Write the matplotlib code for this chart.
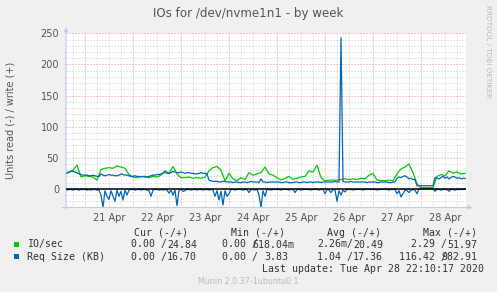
"""Munin 'IOs for /dev/nvme1n1 - by week' chart, redrawn with matplotlib."""
import matplotlib
matplotlib.use("Agg")
import matplotlib.pyplot as plt
from matplotlib.patches import Rectangle
import pandas as pd

W, H = 497, 292

# --- data -------------------------------------------------------------------
# IO/sec (write, +) sampled every 2 hours, Apr 20 14:00 .. Apr 28 22:00
io_write = (
    [25, 27, 30, 38, 19]                                         # Apr 20
    + [21, 20, 19, 14, 31, 33, 34, 33, 37, 35, 33, 23]           # Apr 21
    + [19, 18, 20, 19, 18, 20, 19, 22, 29, 25, 36, 24]           # Apr 22
    + [18, 18, 19, 17, 18, 17, 19, 29, 34, 36, 30, 13]           # Apr 23
    + [25, 16, 13, 18, 15, 26, 22, 24, 26, 35, 24, 22]           # Apr 24
    + [18, 14, 17, 20, 15, 17, 19, 20, 29, 27, 38, 18]           # Apr 25
    + [13, 14, 14, 14, 15, 16, 15, 16, 15, 17, 16, 22]           # Apr 26
    + [25, 14, 13, 13, 14, 13, 24, 32, 35, 40, 26, 8]            # Apr 27
    + [2, 2, 2, 2, 20, 23, 21, 29, 25, 27, 24, 24.84]            # Apr 28
)

# Req Size KB (write, +) sampled hourly, Apr 20 14:00 .. Apr 28 22:00
req_write = (
    [24, 25, 27, 28, 28, 27, 26, 24, 23, 22]
    + [22, 22, 21, 21, 22, 21, 20, 20, 24, 22, 21, 22,
       23, 22, 22, 21, 21, 22, 24, 23, 22, 22, 21, 20]
    + [20, 21, 20, 20, 19, 20, 20, 19, 20, 21, 22, 22,
       23, 23, 24, 25, 27, 25, 25, 26, 28, 27, 26, 26]
    + [27, 26, 25, 26, 26, 25, 25, 24, 24, 25, 26, 25,
       25, 24, 14, 13, 12, 12, 12, 11, 11, 12, 12, 11]
    + [11, 11, 10, 11, 11, 10, 10, 11, 11, 10, 11, 12,
       11, 11, 11, 10, 16, 11, 11, 10, 11, 11, 11, 11]
    + [11, 11, 10, 10, 11, 11, 10, 10, 10, 11, 11, 10,
       10, 11, 11, 10, 11, 11, 10, 11, 11, 11, 10, 11]
    + [11, 11, 11, 11, 11, 12, 11, 11, 243, 12, 11, 11,
       11, 12, 11, 11, 11, 11, 11, 11, 11, 10, 11, 11]
    + [11, 11, 10, 10, 11, 11, 11, 11, 10, 10, 11, 11,
       17, 19, 18, 20, 21, 19, 16, 17, 15, 15, 5, 5]
    + [5, 5, 5, 5, 5, 5, 5, 18, 17, 16, 18, 20,
       17, 19, 16, 18, 20, 19, 17, 18, 16, 17, 16.7]
)

# Req Size KB (read, drawn negative) sampled hourly
req_read = (
    [-1, -2, -1, -1, -2, -1, -1, -2, -1, -1]
    + [-1, -2, -1, -2, -1, -1, -2, -2, -10, -30, -3, -12,
       -17, -3, -12, -20, -2, -12, -4, -18, -2, -10, -2, -1]
    + [-1, -2, -1, -1, -2, -1, -1, -2, -3, -12, -2, -1,
       -1, -2, -1, -2, -1, -2, -7, -2, -10, -2, -27, -2]
    + [-1, -4, -3, -1, -1, -2, -1, -1, -2, -1, -1, -2,
       -1, -1, -2, -1, -2, -12, -3, -18, -4, -26, -3, -12]
    + [-8, -1, -1, -2, -1, -1, -1, -2, -1, -1, -6, -1,
       -1, -2, -1, -10, -30, -3, -12, -1, -1, -2, -1, -1]
    + [-1, -1, -2, -1, -1, -1, -2, -1, -1, -6, -1, -1,
       -2, -1, -1, -1, -1, -2, -1, -1, -1, -2, -1, -1]
    + [-8, -1, -2, -6, -1, -2, -20, -3, -10, -2, -5, -1,
       -1, -1, -2, -1, -1, -1, -1, -2, -1, -1, -1, -1]
    + [-1, -1, -2, -1, -1, -1, -1, -1, -2, -1, -1, -1,
       -8, -3, -13, -8, -2, -3, -6, -2, -1, -2, -8, 0]
    + [0, 0, 0, 0, 0, 0, 0, -4, -1, -1, -2, -1,
       -1, -1, -4, -1, -1, -2, -1, -1, -1, -1, 0]
)

t_2h = pd.date_range("2020-04-20 14:00", "2020-04-28 22:00", freq="2h")
t_1h = pd.date_range("2020-04-20 14:00", "2020-04-28 22:00", freq="h")

day_ticks = pd.date_range("2020-04-21 12:00", periods=8, freq="D")
day_labels = ["21 Apr", "22 Apr", "23 Apr", "24 Apr",
              "25 Apr", "26 Apr", "27 Apr", "28 Apr"]
y_ticks = [0, 50, 100, 150, 200, 250]

series_names = ["IO/sec", "Req Size (KB)"]
series_colors = ["#00CC00", "#0066B3"]
# each cell: (read part, write part) as munin prints them
cur_vals = [("0.00 ", "24.84 "), ("0.00 ", "16.70 ")]
min_vals = [("0.00 ", "618.04m"), ("0.00 ", " 3.83 ")]
avg_vals = [("2.26m", "20.49 "), ("1.04 ", "17.36 ")]
max_vals = [("2.29 ", "51.97 "), ("116.42 ", "982.91 ")]
col_headers = ["Cur (-/+)", "Min (-/+)", "Avg (-/+)", "Max (-/+)"]

# --- figure -----------------------------------------------------------------
BG = "#F0F0F0"
TXT = "#555555"
LEG = "#333333"
MONO = "DejaVu Sans Mono"
CW = 5.97  # monospace char advance in px
GRID_MINOR = "#CDCDCD"
GRID_MAJOR = "#E69595"
DOTS = (0, (1, 2))

fig = plt.figure(figsize=(W / 100, H / 100), dpi=100, facecolor=BG)
ax = fig.add_axes([66 / W, 1 - 207.5 / H, 400 / W, (207.5 - 33.3) / H])
ax.set_facecolor("white")
for s in ax.spines.values():
    s.set_visible(False)

xmin = pd.Timestamp("2020-04-20 14:30")
xmax = pd.Timestamp("2020-04-28 22:30")
ax.set_xlim(xmin, xmax)
ax.set_ylim(-30, 250)

# grid: gray minor every 10 / 6h, red major every 50 / midnight
for v in range(-30, 251, 10):
    if v % 50:
        ax.axhline(v, color=GRID_MINOR, lw=0.72, ls=DOTS, zorder=0)
for t in pd.date_range("2020-04-20 18:00", xmax, freq="6h"):
    if t.hour:
        ax.axvline(t, color=GRID_MINOR, lw=0.72, ls=DOTS, zorder=0)
for v in range(0, 251, 50):
    ax.axhline(v, color=GRID_MAJOR, lw=0.72, ls=DOTS, zorder=0.5)
for t in pd.date_range("2020-04-21", xmax, freq="D"):
    ax.axvline(t, color=GRID_MAJOR, lw=0.72, ls=DOTS, zorder=0.5)

ax.plot(t_2h, io_write, color=series_colors[0], lw=0.9, zorder=2)
ax.plot(t_1h, req_write, color=series_colors[1], lw=0.9, zorder=3)
ax.plot(t_1h, req_read, color=series_colors[1], lw=0.9, zorder=3)
ax.axhline(0, color="black", lw=1.1, zorder=4)

ax.set_xticks(day_ticks)
ax.set_xticklabels(day_labels)
ax.set_yticks(y_ticks)
ax.set_yticklabels([str(v) for v in y_ticks])
ax.tick_params(length=0, labelsize=7, labelcolor=TXT)
ax.tick_params(axis="x", pad=4)
ax.tick_params(axis="y", pad=5)

ax_col = "#C3CAF2"
ax.annotate("", xy=(1.016, 0), xytext=(-0.01, 0), xycoords="axes fraction",
            arrowprops=dict(arrowstyle="-|>", color=ax_col, lw=0.8,
                            mutation_scale=6, shrinkA=0, shrinkB=0),
            annotation_clip=False)
ax.annotate("", xy=(0, 1.035), xytext=(0, -0.01), xycoords="axes fraction",
            arrowprops=dict(arrowstyle="-|>", color=ax_col, lw=0.8,
                            mutation_scale=6, shrinkA=0, shrinkB=0),
            annotation_clip=False)


def px_text(x, y, s, **kw):
    fig.text(x / W, 1 - y / H, s, **kw)


def mono(x, y, s, color=LEG):
    lead = len(s) - len(s.lstrip())
    px_text(x + lead * CW, y, s.strip(), family=MONO, fontsize=7.14,
            color=color, ha="left", va="center")


px_text(248, 14, "IOs for /dev/nvme1n1 - by week", fontsize=8.6,
        color=TXT, ha="center", va="center")
px_text(10.5, 120, "Units read (-) / write (+)", fontsize=7, color=TXT,
        rotation=90, ha="center", va="center")
px_text(488, 5, "RRDTOOL / TOBI OETIKER", fontsize=5.2, color="#BBBBBB",
        rotation=270, ha="center", va="top")

# legend
header_x = [134, 231, 327, 423]
col_end = [203, 294, 389, 483]
for hx, hd in zip(header_x, col_headers):
    mono(hx, 232.5, hd)

row_y = [244.5, 256.7]
for r, (name, col) in enumerate(zip(series_names, series_colors)):
    y = row_y[r]
    fig.add_artist(Rectangle((14 / W, 1 - (y + 2.6) / H), 5 / W, 5 / H,
                             transform=fig.transFigure, color=col, lw=0))
    mono(26.7, y, name)
    for E, vals in zip(col_end, [cur_vals, min_vals, avg_vals, max_vals]):
        left, right = vals[r]
        left = left + "/"
        mono(E - 6 * CW - len(left) * CW, y, left)
        mono(E - len(right) * CW, y, right)

last = "Last update: Tue Apr 28 22:10:17 2020"
mono(483 - len(last) * CW, 268.7, last)
px_text(248, 281, "Munin 2.0.37-1ubuntu0.1", fontsize=5.8, color="#BBBBBB",
        ha="center", va="center")

fig.savefig("out.png", dpi=100, facecolor=BG)
